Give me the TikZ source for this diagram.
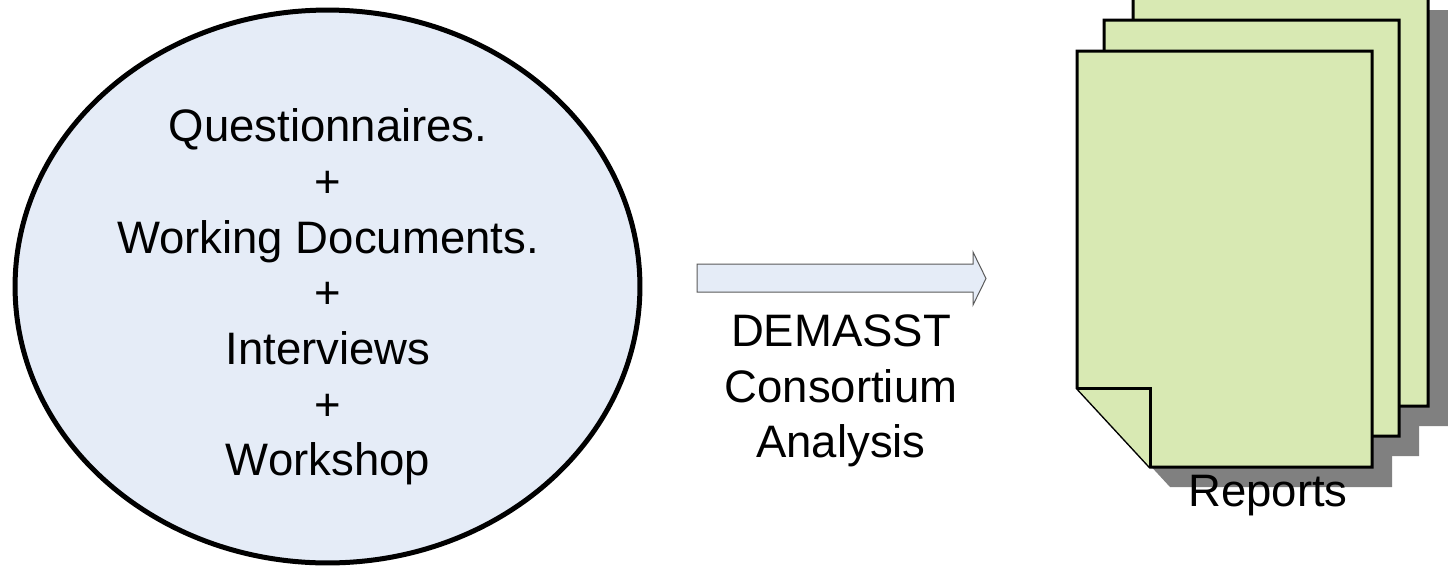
\documentclass[tikz,border=0pt]{standalone}
\usepackage{fontspec}
\setmainfont{Liberation Sans}
\usetikzlibrary{shapes.geometric}
\definecolor{ringfill}{RGB}{229,236,247}
\definecolor{sheetfill}{RGB}{216,233,179}
\definecolor{shadowgray}{RGB}{128,128,128}
\definecolor{arrowline}{RGB}{90,90,90}
\tikzset{
  bodytext/.style={align=center, inner sep=0pt,
    font=\fontsize{25.9}{31.7}\selectfont},
  sourcering/.style={ellipse, draw=black, line width=0.1cm, fill=ringfill,
    minimum width=12.5cm, minimum height=11.06cm, inner sep=0pt},
  sheet/.style={draw=black, line width=0.06cm, line join=miter, fill=sheetfill},
  pics/sheetshadow/.style={code={
    \fill[shadowgray] (20,20) -- (315,20) -- (315,436) -- (93,436) -- (20,357) -- cycle;
  }},
  pics/reportsheet/.style={code={
    \draw[sheet] (0,0) -- (295,0) -- (295,416) -- (73,416) -- (0,337) -- cycle;
    \draw[sheet] (0,337) -- (73,337) -- (73,416);
  }},
}
\begin{document}
\begin{tikzpicture}[x=0.02cm,y=-0.02cm]
  \useasboundingbox (0,0) rectangle (1448,569);
  % sources
  \node[sourcering] (sources) at (327.5,286.5) {};
  \node[bodytext] (sourcetext) at (328,297) {Questionnaires.\\+\\Working Documents.\\+\\Interviews\\+\\Workshop};
  % block arrow
  \draw[arrowline, line width=0.02cm, fill=ringfill]
    (697,264) -- (973,264) -- (973,252) -- (986,278.5) -- (973,305) -- (973,292) -- (697,292) -- cycle;
  \node[bodytext] (analysis) at (841,391) {DEMASST\\Consortium\\Analysis};
  % reports: shadows first, then sheets back to front
  \pic at (1133,-10) {sheetshadow};
  \pic at (1104,20) {sheetshadow};
  \pic at (1077,51) {sheetshadow};
  \pic at (1133,-10) {reportsheet};
  \pic at (1104,20) {reportsheet};
  \pic at (1077,51) {reportsheet};
  \node[bodytext] (reports) at (1268,496) {Reports};
\end{tikzpicture}
\end{document}
